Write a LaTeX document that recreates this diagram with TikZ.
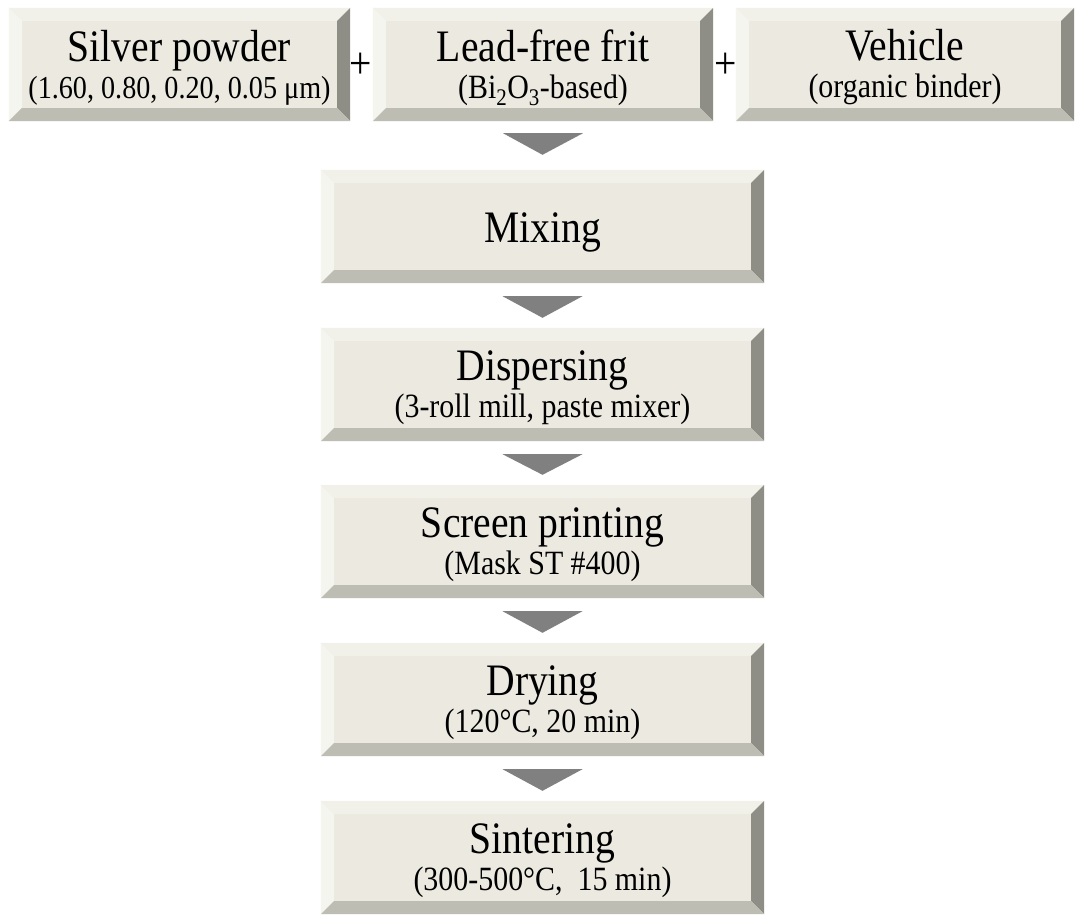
\documentclass[tikz,border=0pt]{standalone}
\usepackage{fontspec}
\setmainfont{Liberation Serif}[FakeStretch=0.88]
\usetikzlibrary{calc}
\pgfdeclarelayer{bg}
\pgfsetlayers{bg,main}
\definecolor{face}{HTML}{ECEAE0}
\definecolor{btop}{HTML}{F1F0E9}
\definecolor{bleft}{HTML}{F5F5EF}
\definecolor{bright}{HTML}{8E8D86}
\definecolor{bbot}{HTML}{BEBDB3}
\definecolor{arr}{HTML}{808080}
\newcommand\mainf{\fontsize{45}{37}\selectfont}
\newcommand\subf{\fontsize{34}{37}\selectfont}
\newcommand\subs{\fontsize{32}{37}\selectfont}
\newcommand\bevelbox[1]{%
  \begin{pgfonlayer}{bg}
    \fill[face] (#1.north west) rectangle (#1.south east);
    \fill[btop] (#1.north west) -- (#1.north east) -- ($(#1.north east)+(-13,13)$) -- ($(#1.north west)+(13,13)$) -- cycle;
    \fill[bleft] (#1.north west) -- ($(#1.north west)+(13,13)$) -- ($(#1.south west)+(13,-13)$) -- (#1.south west) -- cycle;
    \fill[bright] (#1.north east) -- ($(#1.north east)+(-13,13)$) -- ($(#1.south east)+(-13,-13)$) -- (#1.south east) -- cycle;
    \fill[bbot] (#1.south west) -- ($(#1.south west)+(13,-13)$) -- ($(#1.south east)+(-13,-13)$) -- (#1.south east) -- cycle;
  \end{pgfonlayer}}
\newcommand\flowarrow[2]{%
  \fill[arr] ($(#1.south)+(-40,13)$) -- ($(#1.south)+(40,13)$) -- ($(#2.north)+(0,-10)$) -- cycle;}
\begin{document}
\begin{tikzpicture}[x=1pt,y=-1pt,
  box/.style={inner sep=0pt, minimum height=113pt, align=center},
  colbox/.style={box, minimum width=443pt},
  txt/.style={inner sep=0pt, align=center, yshift=-3pt, font=\subf}]
\useasboundingbox (0,0) rectangle (1076,915);
\begin{pgfonlayer}{bg}
\fill[white] (0,0) rectangle (1076,915);
\end{pgfonlayer}
% top row
\node[box, minimum width=341pt] (silver) at (179.5,64.5) {};
\node[txt, font=\subs] (silvert) at (silver.center)
  {{\mainf Silver powder}\\(1.60, 0.80, 0.20, 0.05 μm)};
\node[box, minimum width=340pt] (frit) at (543,64.5) {};
\node[txt] (fritt) at (frit.center)
  {{\mainf Lead-free frit}\\(Bi\textsubscript{2}O\textsubscript{3}-based)};
\node[box, minimum width=338pt] (veh) at (905,64.5) {};
\node[txt] (veht) at (veh.center)
  {{\mainf Vehicle}\\(organic binder)};
\node (plus1) at (361,66) {\mainf +};
\node (plus2) at (726,66) {\mainf +};
% column
\node[colbox] (mix) at (542.5,226.5) {};
\node[txt, yshift=-3pt, font=\mainf] (mixt) at (mix.center) {Mixing};
\node[colbox] (disp) at (542.5,384.5) {};
\node[txt] (dispt) at (disp.center)
  {{\mainf Dispersing}\\(3-roll mill, paste mixer)};
\node[colbox] (scr) at (542.5,541.5) {};
\node[txt] (scrt) at (scr.center)
  {{\mainf Screen printing}\\(Mask ST \#400)};
\node[colbox] (dry) at (542.5,699.5) {};
\node[txt] (dryt) at (dry.center)
  {{\mainf Drying}\\(120°C, 20 min)};
\node[colbox] (sint) at (542.5,857.5) {};
\node[txt] (sintt) at (sint.center)
  {{\mainf Sintering}\\(300-500°C,\ \ 15 min)};
\foreach \n in {silver,frit,veh,mix,disp,scr,dry,sint}{\bevelbox{\n}}
\fill[arr] ($(frit.south)+(-40,12)$) -- ($(frit.south)+(40,12)$) -- ($(mix.north)+(0,-15)$) -- cycle;
\flowarrow{mix}{disp}
\flowarrow{disp}{scr}
\flowarrow{scr}{dry}
\flowarrow{dry}{sint}
\end{tikzpicture}
\end{document}
